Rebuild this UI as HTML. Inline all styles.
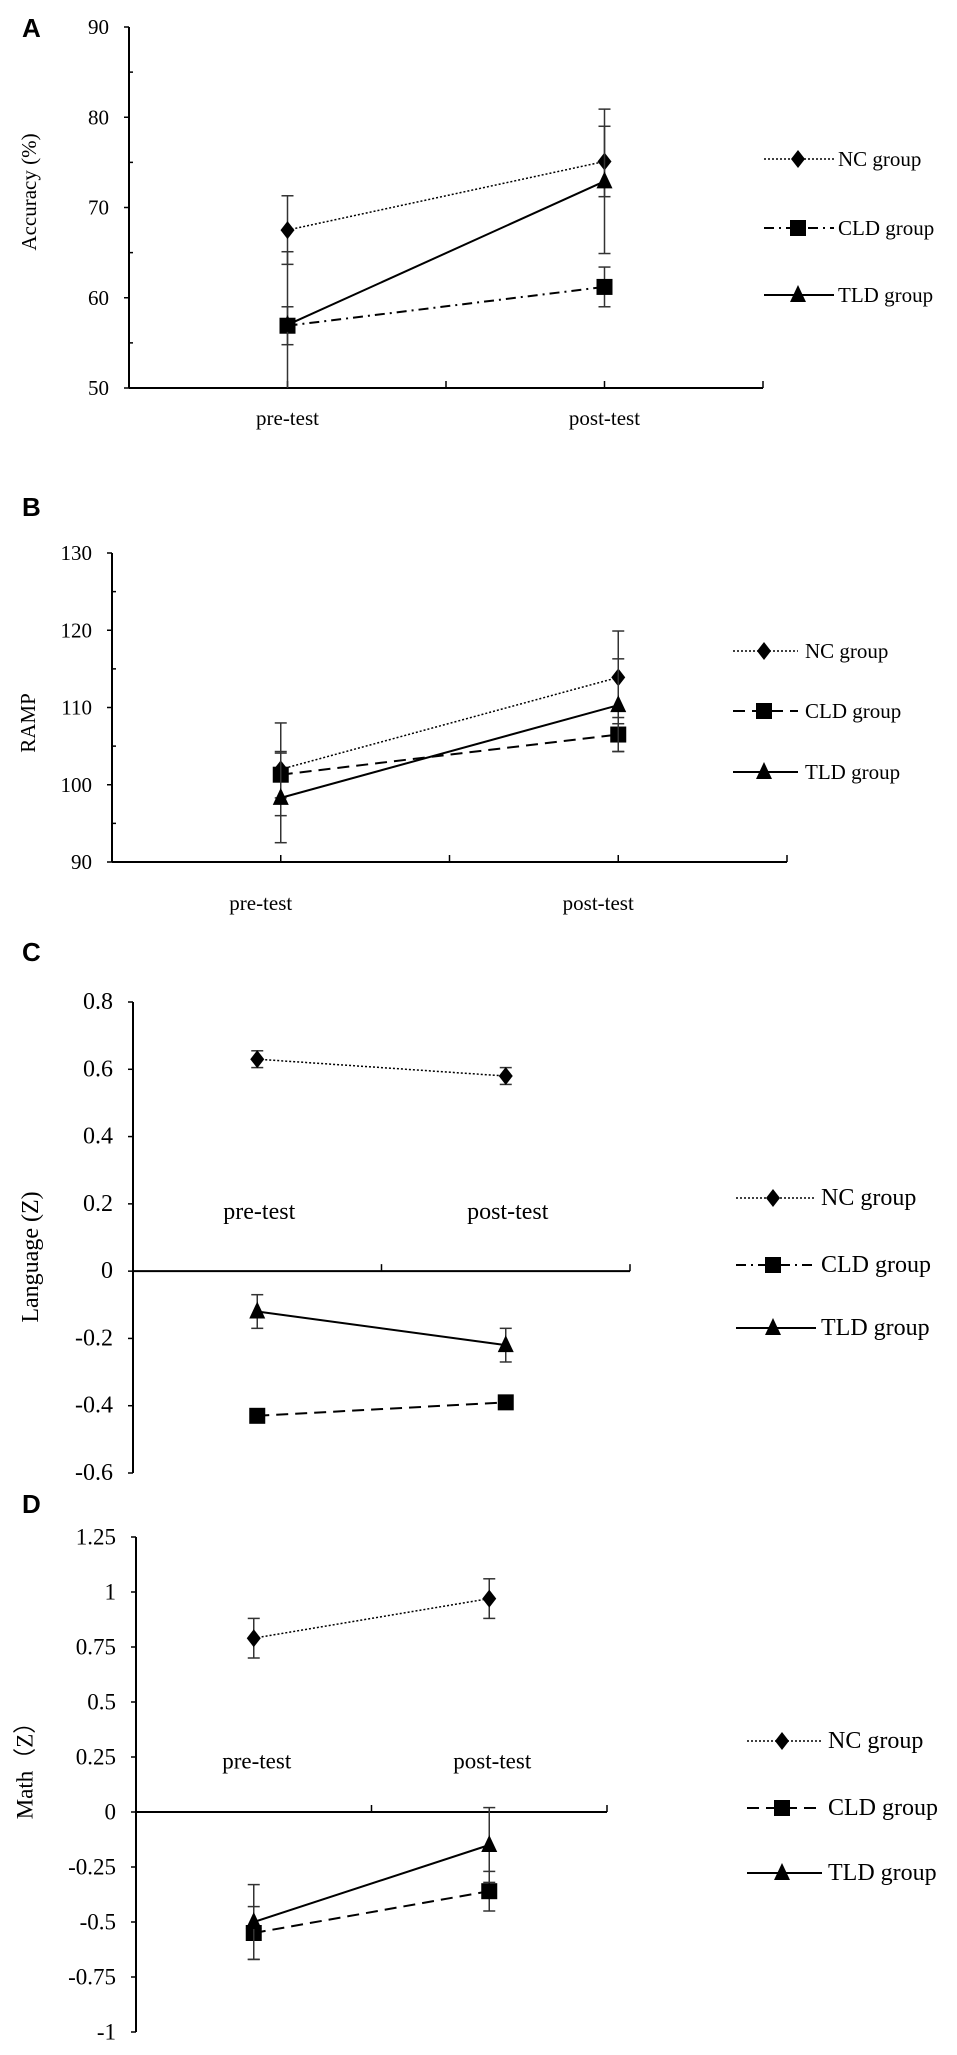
<!DOCTYPE html>
<html><head><meta charset="utf-8"><style>
html,body{margin:0;padding:0;background:#fff;}
svg{display:block;}
.t{font-family:"Liberation Serif",serif;fill:#000;}
.l{font-family:"Liberation Sans",sans-serif;font-weight:bold;fill:#000;}
</style></head><body>
<svg id="fig" width="957" height="2055" viewBox="0 0 957 2055" xmlns="http://www.w3.org/2000/svg"></svg>
<script>
// Panel A: Accuracy (%)
const catsA = ["pre-test", "post-test"];
const ncA = [67.5, 75.1], ncErrA = [3.8, 3.9];
const cldA = [56.9, 61.2], cldErrA = [2.1, 2.2];
const tldA = [57.0, 72.9], tldErrA = [8.1, 8.0];
const ticksA = [50, 60, 70, 80, 90];
// Panel B: RAMP
const catsB = ["pre-test", "post-test"];
const ncB = [102.0, 113.9], ncErrB = [6.0, 6.0];
const cldB = [101.3, 106.5], cldErrB = [3.0, 2.2];
const tldB = [98.3, 110.3], tldErrB = [5.8, 6.0];
const ticksB = [90, 100, 110, 120, 130];
// Panel C: Language (Z)
const catsC = ["pre-test", "post-test"];
const ncC = [0.63, 0.58], ncErrC = [0.025, 0.025];
const cldC = [-0.43, -0.39], cldErrC = [0.01, 0.01];
const tldC = [-0.12, -0.22], tldErrC = [0.05, 0.05];
const ticksC = [-0.6, -0.4, -0.2, 0, 0.2, 0.4, 0.6, 0.8];
const tickLabC = ["-0.6", "-0.4", "-0.2", "0", "0.2", "0.4", "0.6", "0.8"];
// Panel D: Math (Z)
const catsD = ["pre-test", "post-test"];
const ncD = [0.79, 0.97], ncErrD = [0.09, 0.09];
const cldD = [-0.55, -0.36], cldErrD = [0.12, 0.09];
const tldD = [-0.50, -0.15], tldErrD = [0.17, 0.17];
const ticksD = [-1, -0.75, -0.5, -0.25, 0, 0.25, 0.5, 0.75, 1, 1.25];
const tickLabD = ["-1", "-0.75", "-0.5", "-0.25", "0", "0.25", "0.5", "0.75", "1", "1.25"];

const svg = document.getElementById('fig');
const NS = 'http://www.w3.org/2000/svg';
function mk(tag, attrs, parent, text){
  const e = document.createElementNS(NS, tag);
  for (const k in attrs) e.setAttribute(k, attrs[k]);
  if (text !== undefined) e.textContent = text;
  (parent || svg).appendChild(e);
  return e;
}
function marker(g, shape, x, y){
  let m;
  if (shape === 'diamond') m = mk('polygon', {points: `${x},${y-9} ${x+7},${y} ${x},${y+9} ${x-7},${y}`, fill:'#000'}, g);
  else if (shape === 'square') m = mk('rect', {x:x-8, y:y-8, width:16, height:16, fill:'#000'}, g);
  else m = mk('polygon', {points: `${x},${y-10} ${x+8},${y+7} ${x-8},${y+7}`, fill:'#000'}, g);
  return m;
}

function panel(p){
  const g = mk('g', {});
  
  
  const yS = v => p.y0 + (v - p.vmin) / (p.vmax - p.vmin) * (p.y1 - p.y0);
  const xS = i => p.ax + p.w * (i === 0 ? 0.25 : 0.75);
  const lt = mk('text', {x: 22, y: p.letterY, class:'l', 'font-size': 26, 'dominant-baseline':'central'}, g, p.letter);
  
  
  const ya = mk('line', {x1:p.ax, y1:yS(p.vmin), x2:p.ax, y2:yS(p.vmax), stroke:'#000', 'stroke-width':2}, g);
  
  
  p.ticks.forEach((v, i) => {
    mk('line', {x1:p.ax-5, y1:yS(v), x2:p.ax, y2:yS(v), stroke:'#000', 'stroke-width':1.5}, g);
    const tl = mk('text', {x:p.ax-20, y:yS(v), class:'t', 'font-size':p.fs, 'text-anchor':'end', 'dominant-baseline':'central'}, g, p.tickLab ? p.tickLab[i] : String(v));
    
    
    if (p.minor && i < p.ticks.length - 1) {
      const mv = (v + p.ticks[i+1]) / 2;
      mk('line', {x1:p.ax, y1:yS(mv), x2:p.ax+4, y2:yS(mv), stroke:'#000', 'stroke-width':1.5}, g);
    }
  });
  const xy = yS(p.xAxisAt);
  const xa = mk('line', {x1:p.ax, y1:xy, x2:p.ax+p.w, y2:xy, stroke:'#000', 'stroke-width':2}, g);
  
  
  const xt = p.catTicks ? [0.25, 0.5, 0.75, 1] : [0.5, 1];
  xt.forEach(f => mk('line', {x1:p.ax+p.w*f, y1:xy, x2:p.ax+p.w*f, y2:xy-7, stroke:'#000', 'stroke-width':1.5}, g));
  p.cats.forEach((c, i) => {
    const cl = mk('text', {x:xS(i) + (p.catDx||0), y:p.catY, class:'t', 'font-size':p.fs, 'text-anchor':'middle', 'dominant-baseline':'central'}, g, c);
    
    
  });
  const yt = mk('text', {x:p.titleX, y:p.titleY, class:'t', 'font-size':p.fs, 'text-anchor':'middle', 'dominant-baseline':'central', transform:`rotate(-90 ${p.titleX} ${p.titleY})`}, g, p.title);
  
  
  p.series.forEach(s => {
    const sg = mk('g', {}, g);
    
    
    s.vals.forEach((v, i) => {
      const x = xS(i);
      const hi = Math.min(v + s.err[i], p.vmax), lo = Math.max(v - s.err[i], p.vmin);
      mk('line', {x1:x, y1:yS(hi), x2:x, y2:yS(lo), stroke:'#333', 'stroke-width':1.5}, sg);
      [v + s.err[i], v - s.err[i]].forEach(c => {
        if (c >= p.vmin && c <= p.vmax) mk('line', {x1:x-6, y1:yS(c), x2:x+6, y2:yS(c), stroke:'#333', 'stroke-width':1.5}, sg);
      });
    });
    const ln = mk('line', {x1:xS(0), y1:yS(s.vals[0]), x2:xS(1), y2:yS(s.vals[1]), stroke:'#000', 'stroke-width':s.sw, 'stroke-dasharray':s.dash}, sg);
    
    
    s.vals.forEach((v, i) => {
      const m = marker(sg, s.shape, xS(i), yS(v));
      
      
    });
    const lg = mk('g', {}, g);
    
    
    const ly = p.legY[s.idx];
    mk('line', {x1:p.legX0, y1:ly, x2:p.legX1, y2:ly, stroke:'#000', 'stroke-width':s.sw, 'stroke-dasharray':s.legDash || s.dash}, lg);
    marker(lg, s.shape, p.legM, ly);
    mk('text', {x:p.legT, y:ly, class:'t', 'font-size':p.lfs, 'dominant-baseline':'central'}, lg, s.name);
  });
}

const dot = '2,2', dashdot = '10,5,2,5', dashed = '12,7';
panel({letter:'A', letterY:28, ax:129, w:634, y0:388, y1:27, vmin:50, vmax:90, ticks:ticksA, minor:true, xAxisAt:50, catTicks:true,
  cats:catsA, catY:418, fs:21, lfs:21, title:'Accuracy (%)', titleX:29, titleY:192,
  legX0:764, legX1:834, legM:798, legT:838, legY:[159,228,295],
  series:[
    {key:'nc', idx:0, name:'NC group', vals:ncA, err:ncErrA, shape:'diamond', dash:dot, sw:1.5},
    {key:'cld', idx:1, name:'CLD group', vals:cldA, err:cldErrA, shape:'square', dash:dashdot, sw:2},
    {key:'tld', idx:2, name:'TLD group', vals:tldA, err:tldErrA, shape:'triangle', dash:'none', sw:2}]});
panel({letter:'B', letterY:507, ax:112, w:675, y0:862, y1:553, vmin:90, vmax:130, ticks:ticksB, minor:true, xAxisAt:90, catTicks:true,
  cats:catsB, catY:903, catDx:-20, fs:21, lfs:21, title:'RAMP', titleX:28, titleY:723,
  legX0:733, legX1:798, legM:764, legT:805, legY:[651,711,772],
  series:[
    {key:'nc', idx:0, name:'NC group', vals:ncB, err:ncErrB, shape:'diamond', dash:dot, sw:1.5},
    {key:'cld', idx:1, name:'CLD group', vals:cldB, err:cldErrB, shape:'square', dash:dashed, sw:2},
    {key:'tld', idx:2, name:'TLD group', vals:tldB, err:tldErrB, shape:'triangle', dash:'none', sw:2}]});
panel({letter:'C', letterY:952, ax:133, w:497, y0:1473, y1:1002, vmin:-0.6, vmax:0.8, ticks:ticksC, tickLab:tickLabC, minor:false, xAxisAt:0, catTicks:false,
  cats:catsC, catY:1212, catDx:2, fs:24, lfs:24, title:'Language (Z)', titleX:31, titleY:1257,
  legX0:736, legX1:816, legM:773, legT:821, legY:[1198,1265,1328],
  series:[
    {key:'nc', idx:0, name:'NC group', vals:ncC, err:ncErrC, shape:'diamond', dash:dot, sw:1.5},
    {key:'cld', idx:1, name:'CLD group', vals:cldC, err:cldErrC, shape:'square', dash:dashed, legDash:dashdot, sw:2},
    {key:'tld', idx:2, name:'TLD group', vals:tldC, err:tldErrC, shape:'triangle', dash:'none', sw:2}]});
panel({letter:'D', letterY:1504, ax:136, w:471, y0:2032, y1:1537, vmin:-1, vmax:1.25, ticks:ticksD, tickLab:tickLabD, minor:false, xAxisAt:0, catTicks:false,
  cats:catsD, catY:1761, catDx:3, fs:23, lfs:24, title:'Math（Z）', titleX:25, titleY:1765,
  legX0:747, legX1:822, legM:782, legT:828, legY:[1741,1808,1873],
  series:[
    {key:'nc', idx:0, name:'NC group', vals:ncD, err:ncErrD, shape:'diamond', dash:dot, sw:1.5},
    {key:'cld', idx:1, name:'CLD group', vals:cldD, err:cldErrD, shape:'square', dash:dashed, sw:2},
    {key:'tld', idx:2, name:'TLD group', vals:tldD, err:tldErrD, shape:'triangle', dash:'none', sw:2}]});
</script>
</body></html>
